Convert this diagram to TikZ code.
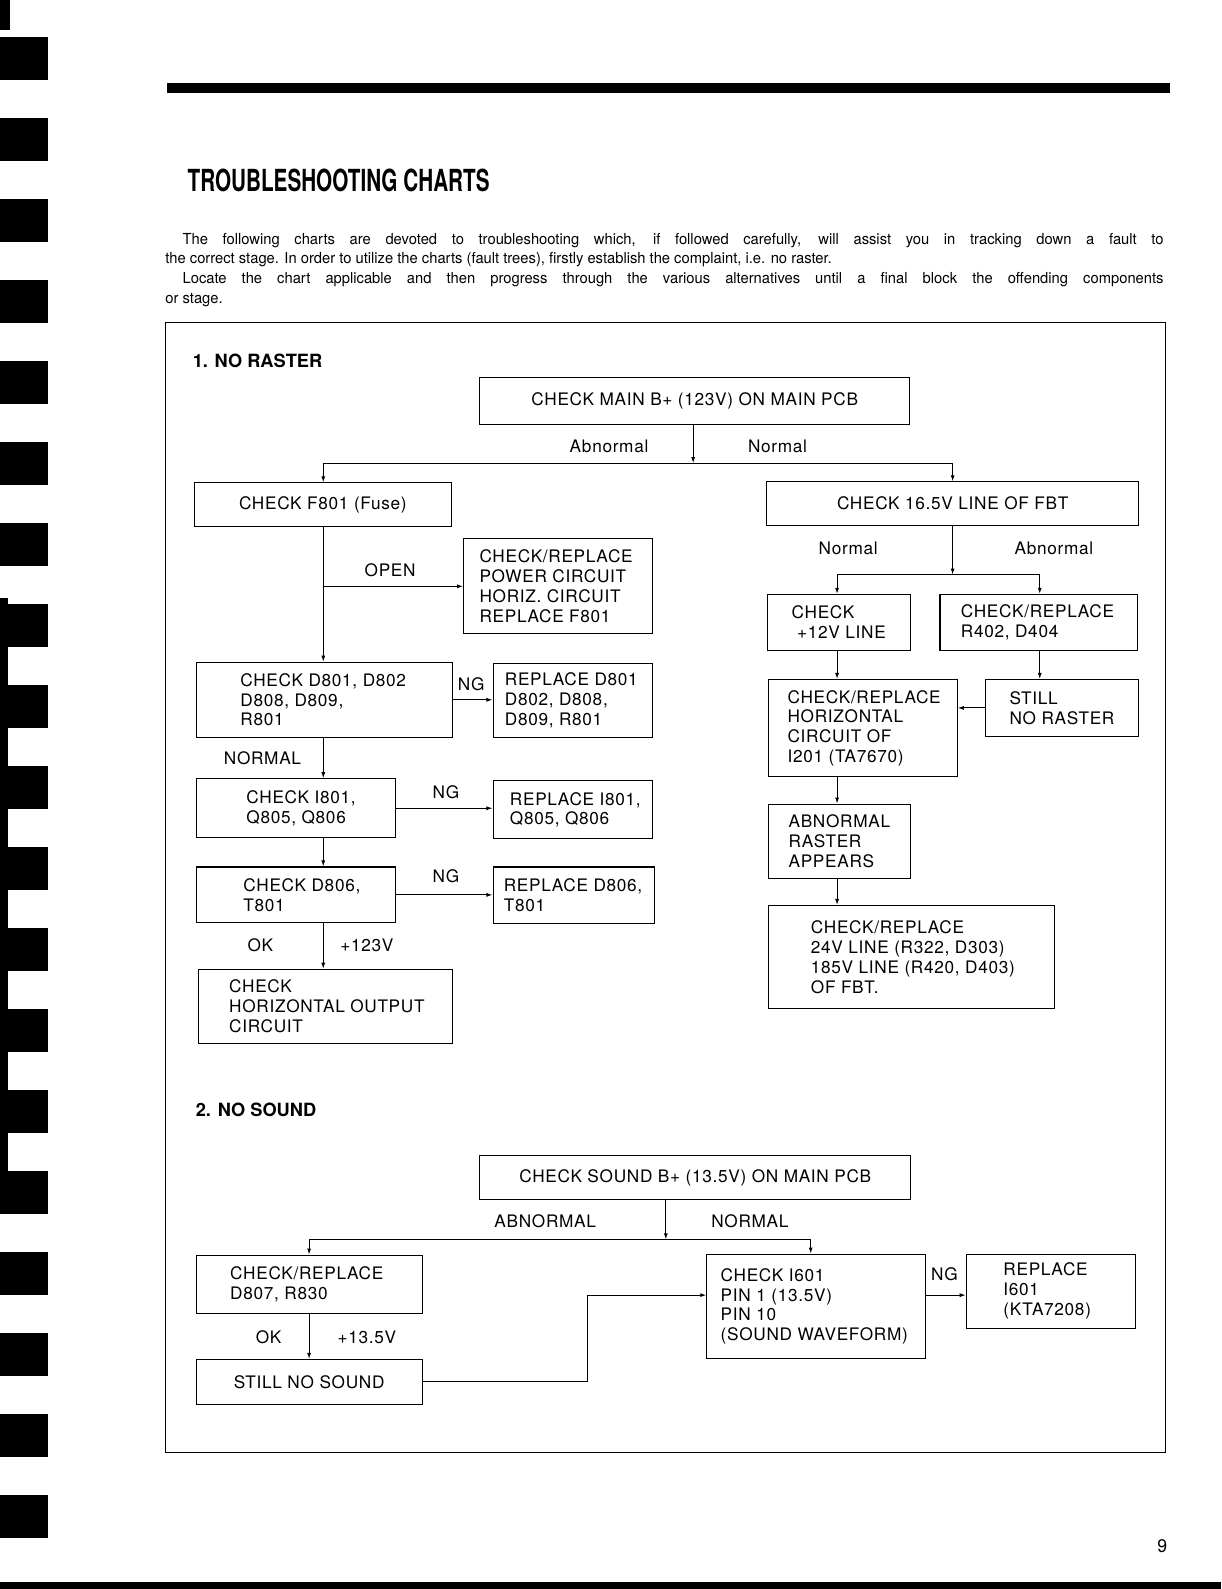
\documentclass[tikz,border=0pt]{standalone}
\usepackage{fontspec}
\setmainfont{TeX Gyre Heros}
\newfontfamily\heros[LetterSpace=4]{TeX Gyre Heros}
\newfontfamily\heroscond[FakeStretch=0.68]{TeX Gyre Heros}
\newfontfamily\herosnarrow[FakeStretch=0.97]{TeX Gyre Heros}
\newcommand{\cajafont}{\heros\fontsize{17}{19.5}\selectfont}
\usepackage{tikz}
\usetikzlibrary{arrows.meta, positioning}
\tikzset{
  caja/.style n args={2}{draw, line width=1.1pt, inner sep=0pt, anchor=north west,
    minimum width=#1, minimum height=#2, font=\cajafont},
  texto/.style={align=left, inner sep=0pt, font=\cajafont},
  etiq/.style={inner sep=0pt, font=\cajafont},
  flecha/.style={line width=1pt, -{Latex[length=6pt,width=4pt]}},
  linea/.style={line width=1pt},
  parrafo/.style={anchor=base west, inner sep=0pt, font=\herosnarrow\fontsize{15}{18}\selectfont},
}

\begin{document}
\begin{tikzpicture}[x=1pt, y=-1pt]
  \useasboundingbox (0,0) rectangle (1205,1568);
  % Encuadernación
  \fill (0,0) rectangle (10,30);
  \fill (0,590) rectangle (8,1180);
  \foreach \i in {0,...,18}
    \fill (0,{37+79.9*\i}) rectangle (47,{79+79.9*\i});
  % Barras de página
  \fill (165,82) rectangle (1155,92);
  \fill (0,1561) rectangle (1205,1568);
  \node[font=\herosnarrow\fontsize{18}{20}\selectfont, inner sep=0pt] (pagina) at (1147,1526) {9};
  % Título y texto
  \node[anchor=base west, inner sep=0pt, font=\heroscond\bfseries\fontsize{30}{32}\selectfont] (titulo) at (185,189) {TROUBLESHOOTING CHARTS};
  \node[parrafo] (par1) at (180,241) {\makebox[968pt][s]{The following charts are devoted to troubleshooting which, if followed carefully, will assist you in tracking down a fault to}};
  \node[parrafo] (par2) at (163,260) {the correct stage. In order to utilize the charts (fault trees), firstly establish the complaint, i.e. no raster.};
  \node[parrafo] (par3) at (180,279.5) {\makebox[968pt][s]{Locate the chart applicable and then progress through the various alternatives until a final block the offending components}};
  \node[parrafo] (par4) at (163,299) {or stage.};
  % Marco
  \draw[line width=1pt] (163,318) rectangle (1150,1433);
  \node[anchor=base west, inner sep=0pt, font=\bfseries\fontsize{18}{20}\selectfont] (sec1) at (190,362.5) {1. NO RASTER};
  \node[anchor=base west, inner sep=0pt, font=\bfseries\fontsize{18}{20}\selectfont] (sec2) at (193,1101.5) {2. NO SOUND};

  % Columnas de las flechas
  \coordinate (colA) at (319,0);
  \coordinate (colC) at (826,0);
  \coordinate (colD) at (1026,0);
  \coordinate (colE) at (305,0);
  \coordinate (colF) at (800,0);
  \coordinate (split1) at (684,457);
  \coordinate (split2) at (940,567);
  \coordinate (split3) at (657,1223);
  \coordinate (codo) at (580,1278);

  % 1. NO RASTER
  \node[caja={424pt}{46pt}] (b1) at (473,372) {CHECK MAIN B+ (123V) ON MAIN PCB};
  \node[caja={254pt}{43pt}] (f801) at (191,476) {CHECK F801 (Fuse)};
  \node[caja={186pt}{94pt}] (power) at (457,531) {};
  \node[texto, right=16pt of power.west] (tpower) {CHECK/REPLACE\\POWER CIRCUIT\\HORIZ. CIRCUIT\\REPLACE F801};
  \node[caja={253pt}{74pt}] (d801) at (193,653) {};
  \node[texto, right=44pt of d801.west] (td801) {CHECK D801, D802\\D808, D809,\\R801};
  \node[caja={157pt}{73pt}] (rep1) at (486,654) {};
  \node[texto, right=12pt of rep1.west] (trep1) {REPLACE D801\\D802, D808,\\D809, R801};
  \node[caja={197pt}{58pt}] (i801) at (193,768) {};
  \node[texto, right=50pt of i801.west] (ti801) {CHECK I801,\\Q805, Q806};
  \node[caja={157pt}{57pt}] (rep2) at (486,770) {};
  \node[texto, right=17pt of rep2.west] (trep2) {REPLACE I801,\\Q805, Q806};
  \node[caja={197pt}{55pt}] (d806) at (193,855) {};
  \node[texto, right=47pt of d806.west] (td806) {CHECK D806,\\T801};
  \node[caja={159pt}{56pt}] (rep3) at (486,855) {};
  \node[texto, right=11pt of rep3.west] (trep3) {REPLACE D806,\\T801};
  \node[caja={251pt}{73pt}] (hout) at (195,956) {};
  \node[texto, right=31pt of hout.west] (thout) {CHECK\\HORIZONTAL OUTPUT\\CIRCUIT};

  \node[caja={367pt}{43pt}] (fbt) at (756,475) {CHECK 16.5V LINE OF FBT};
  \node[caja={141pt}{55pt}] (v12) at (757,586) {};
  \node[texto, right=24pt of v12.west] (tv12) {CHECK\\\ +12V LINE};
  \node[caja={195pt}{55pt}] (r402) at (927,586) {};
  \node[texto, right=21pt of r402.west] (tr402) {CHECK/REPLACE\\R402, D404};
  \node[caja={186pt}{96pt}] (horiz) at (758,670) {};
  \node[texto, right=19pt of horiz.west] (thoriz) {CHECK/REPLACE\\HORIZONTAL\\CIRCUIT OF\\I201 (TA7670)};
  \node[caja={151pt}{56pt}] (still) at (972,670) {};
  \node[texto, right=24pt of still.west] (tstill) {STILL\\NO RASTER};
  \node[caja={140pt}{73pt}] (abras) at (758,793) {};
  \node[texto, right=20pt of abras.west] (tabras) {ABNORMAL\\RASTER\\APPEARS};
  \node[caja={282pt}{102pt}] (v24) at (758,893) {};
  \node[texto, right=42pt of v24.west] (tv24) {CHECK/REPLACE\\24V LINE (R322, D303)\\185V LINE (R420, D403)\\OF FBT.};

  % Flechas 1
  \draw[flecha] (b1.south -| split1) -- (split1);
  \draw[linea] (split1 -| colA) -- (split1 -| fbt.north);
  \draw[flecha] (split1 -| colA) -- (f801.north -| colA);
  \draw[flecha] (split1 -| fbt.north) -- (fbt.north);
  \draw[flecha] (f801.south -| colA) -- (d801.north -| colA);
  \draw[flecha] (colA |- power.west) -- (power.west);
  \draw[flecha] (d801.east) -- (d801.east -| rep1.west);
  \draw[flecha] (d801.south -| colA) -- (i801.north -| colA);
  \draw[flecha] (i801.east) -- (i801.east -| rep2.west);
  \draw[flecha] (i801.south -| colA) -- (d806.north -| colA);
  \draw[flecha] (d806.east) -- (d806.east -| rep3.west);
  \draw[flecha] (d806.south -| colA) -- (hout.north -| colA);
  \draw[flecha] (fbt.south -| split2) -- (split2);
  \draw[linea] (split2 -| colC) -- (split2 -| colD);
  \draw[flecha] (split2 -| colC) -- (v12.north -| colC);
  \draw[flecha] (split2 -| colD) -- (r402.north -| colD);
  \draw[flecha] (v12.south -| colC) -- (horiz.north -| colC);
  \draw[flecha] (r402.south -| colD) -- (still.north -| colD);
  \draw[flecha] (still.west) -- (still.west -| horiz.east);
  \draw[flecha] (horiz.south -| colC) -- (abras.north -| colC);
  \draw[flecha] (abras.south -| colC) -- (v24.north -| colC);

  % Etiquetas 1
  \node[etiq, anchor=east] (l1) at (640,440) {Abnormal};
  \node[etiq, anchor=west] (l2) at (738,440) {Normal};
  \node[etiq] (l3) at (385,563) {OPEN};
  \node[etiq] (l4) at (465,675) {NG};
  \node[etiq] (l5) at (259,748) {NORMAL};
  \node[etiq] (l6) at (440,782) {NG};
  \node[etiq] (l7) at (440,865) {NG};
  \node[etiq] (l8) at (257,933) {OK};
  \node[etiq] (l9) at (362,933) {+123V};
  \node[etiq] (l10) at (837,541) {Normal};
  \node[etiq] (l11) at (1040,541) {Abnormal};

  % 2. NO SOUND
  \node[caja={425pt}{43pt}] (sndb) at (473,1140) {CHECK SOUND B+ (13.5V) ON MAIN PCB};
  \node[caja={223pt}{58pt}] (d807) at (193,1238) {};
  \node[texto, right=34pt of d807.west] (td807) {CHECK/REPLACE\\D807, R830};
  \node[caja={223pt}{44pt}] (nosnd) at (193,1341) {STILL NO SOUND};
  \node[caja={216pt}{103pt}] (i601) at (697,1237) {};
  \node[texto, right=14pt of i601.west] (ti601) {CHECK I601\\PIN 1 (13.5V)\\PIN 10\\(SOUND WAVEFORM)};
  \node[caja={167pt}{73pt}] (rep4) at (953,1237) {};
  \node[texto, right=37pt of rep4.west] (trep4) {REPLACE\\I601\\(KTA7208)};

  % Flechas 2
  \draw[flecha] (sndb.south -| split3) -- (split3);
  \draw[linea] (split3 -| colE) -- (split3 -| colF);
  \draw[flecha] (split3 -| colE) -- (d807.north -| colE);
  \draw[flecha] (split3 -| colF) -- (i601.north -| colF);
  \draw[flecha] (d807.south -| colE) -- (nosnd.north -| colE);
  \draw[flecha] (nosnd.east) -| (codo) -- (i601.west |- codo);
  \draw[flecha] (i601.east |- codo) -- (rep4.west |- codo);

  % Etiquetas 2
  \node[etiq] (m1) at (538,1205) {ABNORMAL};
  \node[etiq] (m2) at (740,1205) {NORMAL};
  \node[etiq] (m3) at (265,1320) {OK};
  \node[etiq] (m4) at (362,1320) {+13.5V};
  \node[etiq] (m5) at (932,1257) {NG};
\end{tikzpicture}
\end{document}
